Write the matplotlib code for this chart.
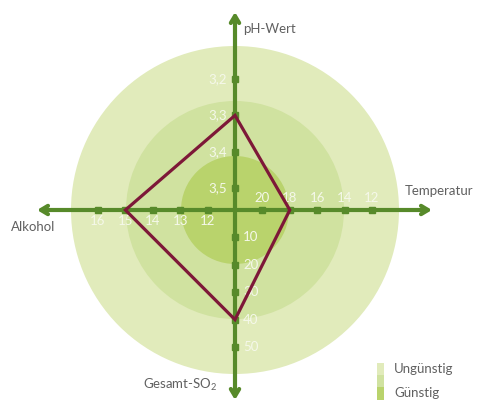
import matplotlib
matplotlib.use("Agg")
import matplotlib.pyplot as plt
from matplotlib.patches import Circle, Rectangle
import numpy as np

plt.rcParams["font.family"] = ["Lato", "DejaVu Sans"]
plt.rcParams["mathtext.fontset"] = "custom"
plt.rcParams["mathtext.rm"] = "Lato"

# ── Daten ─────────────────────────────────────────────
ph_ticks = [3.2, 3.3, 3.4, 3.5]
temp_ticks = [20, 18, 16, 14, 12]
alk_ticks = [16, 15, 14, 13, 12]
so2_ticks = [10, 20, 30, 40, 50]

# Messwert (rote Linie)
wert = {"ph": 3.3, "temp": 18, "alk": 15, "so2": 40}

# Zonen (Radius in Pixel)
zone_r = [164, 109, 54]
zone_col = ["#e1ebbb", "#d0e2a0", "#b9d36c"]
zone_lab = ["Ungünstig", "Günstig"]

GREEN = "#578a2a"
RED = "#7d1838"
GRAY = "#606060"
TICKTXT = "#f5f8ea"

U = 27.4  # Pixel pro Einheit


def r_ph(v):
    return (3.5 - v) * 363 + 22


def r_temp(v):
    return (22 - v) / 2 * U


def r_alk(v):
    return (v - 11) * U


def r_so2(v):
    return v / 10 * U


fig = plt.figure(figsize=(4.86, 4.05), dpi=100)
ax = fig.add_axes([0, 0, 1, 1])
ax.set_xlim(-235, 251)
ax.set_ylim(-195, 210)
ax.axis("off")

for r, c in zip(zone_r, zone_col):
    ax.add_patch(Circle((0, 0), r, color=c, lw=0, zorder=1))

# Achsen mit Pfeilen
arrow = dict(arrowstyle="->,head_length=0.5,head_width=0.3", color=GREEN, lw=3,
             shrinkA=0, shrinkB=0)
for end in [(0, 198), (0, -190), (-198, 0), (197, 0)]:
    ax.annotate("", xy=end, xytext=(0, 0), arrowprops=arrow, zorder=3)

ms = 4.5
fs = 9.5
# pH (oben)
for v in ph_ticks:
    y = r_ph(v)
    ax.plot(0, y, "s", color=GREEN, ms=ms, zorder=4)
    ax.text(-8, y, f"{v:.1f}".replace(".", ","), ha="right", va="center",
            fontsize=fs, color=TICKTXT, zorder=5)
# Temperatur (rechts)
for v in temp_ticks:
    x = r_temp(v)
    ax.plot(x, 0, "s", color=GREEN, ms=ms, zorder=4)
    ax.text(x, 6, str(v), ha="center", va="bottom", fontsize=fs, color=TICKTXT, zorder=5)
# Alkohol (links)
for v in alk_ticks:
    x = -r_alk(v)
    ax.plot(x, 0, "s", color=GREEN, ms=ms, zorder=4)
    ax.text(x, -5, str(v), ha="center", va="top", fontsize=fs, color=TICKTXT, zorder=5)
# SO2 (unten)
for v in so2_ticks:
    y = -r_so2(v)
    ax.plot(0, y, "s", color=GREEN, ms=ms, zorder=4)
    ax.text(8, y, str(v), ha="left", va="center", fontsize=fs, color=TICKTXT, zorder=5)

# Messwert-Polygon
px = [0, r_temp(wert["temp"]), 0, -r_alk(wert["alk"])]
py = [r_ph(wert["ph"]), 0, -r_so2(wert["so2"]), 0]
ax.fill(px, py, fill=False, edgecolor=RED, lw=2.3, joinstyle="miter", zorder=6)

# Achsentitel
ax.text(8, 181, "pH-Wert", ha="left", va="center", fontsize=fs, color=GRAY)
ax.text(170, 19, "Temperatur", ha="left", va="center", fontsize=fs, color=GRAY)
ax.text(-224, -17, "Alkohol", ha="left", va="center", fontsize=fs, color=GRAY)
ax.text(-92, -175, "Gesamt-SO$_\\mathregular{2}$", ha="left", va="center",
        fontsize=fs, color=GRAY)

# Legende
lx, lw_ = 142, 7
ax.add_patch(Rectangle((lx, -165), lw_, 12, color=zone_col[0], lw=0))
ax.add_patch(Rectangle((lx, -177), lw_, 12, color=zone_col[1], lw=0))
ax.add_patch(Rectangle((lx, -190), lw_, 13, color=zone_col[2], lw=0))
ax.text(lx + 17, -159, zone_lab[0], ha="left", va="center", fontsize=fs, color=GRAY)
ax.text(lx + 17, -183, zone_lab[1], ha="left", va="center", fontsize=fs, color=GRAY)

fig.savefig("out.png", dpi=100)
